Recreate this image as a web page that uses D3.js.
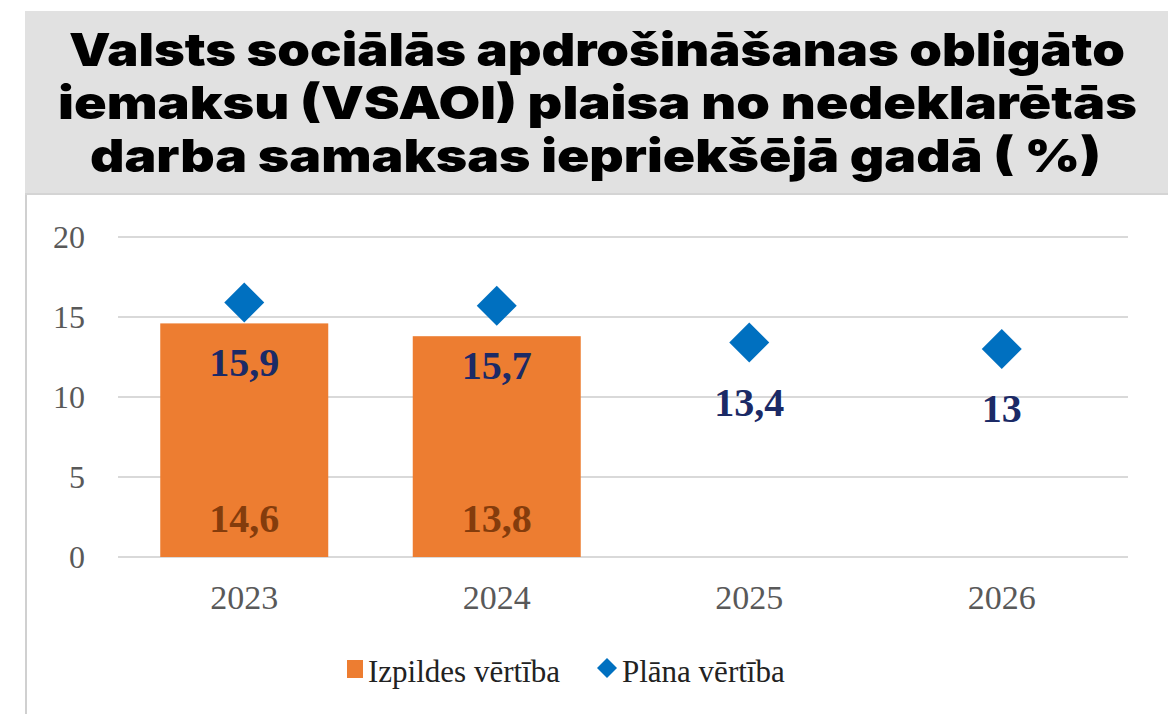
<!DOCTYPE html>
<html lang="lv">
<head>
<meta charset="UTF-8">
<title>VSAOI plaisa</title>
<script src="https://d3js.org/d3.v7.min.js"></script>
<style>
  body { margin: 0; background: #fff; }
  svg { display: block; }
</style>
</head>
<body>
<script>
// dati
const years = ['2023', '2024', '2025', '2026'];
const actual = [14.6, 13.8, null, null];     // Izpildes vērtība
const plan = [15.9, 15.7, 13.4, 13];        // Plāna vērtība
const planLabels = ['15,9', '15,7', '13,4', '13'];
const actualLabels = ['14,6', '13,8', null, null];
const yTicks = [0, 5, 10, 15, 20];
const titleLines = [
  'Valsts sociālās apdrošināšanas obligāto',
  'iemaksu (VSAOI) plaisa no nedeklarētās',
  'darba samaksas iepriekšējā gadā ( %)'
];
const legendItems = ['Izpildes vērtība', 'Plāna vērtība'];

const W = 1168, H = 714;
const orange = '#ED7D31', blue = '#0070C0';
const serif = '"Liberation Serif", "DejaVu Serif", serif';

const svg = d3.select('body').append('svg')
  .attr('width', W).attr('height', H);

// virsraksta josla
svg.append('rect').attr('x', 25).attr('y', 11).attr('width', W - 25).attr('height', 182)
  .attr('fill', '#e1e1e1');
svg.append('line').attr('x1', 25).attr('x2', W).attr('y1', 194).attr('y2', 194)
  .attr('stroke', '#d4d4d4').attr('stroke-width', 2);

// rindu novietojums: [kreisā mala, platums]
const titleBox = [[69, 1056], [58, 1079], [90, 1011]];
svg.append('g').selectAll('text').data(titleLines).join('text')
  .attr('x', (d, i) => titleBox[i][0])
  .attr('y', (d, i) => 66 + i * 53)
  .attr('textLength', (d, i) => titleBox[i][1])
  .attr('lengthAdjust', 'spacingAndGlyphs')
  .attr('font-family', 'Inter, "Noto Sans", sans-serif')
  .attr('font-weight', 900)
  .attr('font-size', 46)
  .attr('fill', '#000')
  .text(d => d);

// diagrammas laukuma kreisā mala
svg.append('line').attr('x1', 26).attr('x2', 26).attr('y1', 195).attr('y2', H)
  .attr('stroke', '#d0d0d0').attr('stroke-width', 2);

const x = d3.scaleBand().domain(years).range([118, 1128]);
const y = d3.scaleLinear().domain([0, 20]).range([557, 237]);

// režģis
svg.append('g').selectAll('line').data(yTicks).join('line')
  .attr('x1', 118).attr('x2', 1128)
  .attr('y1', d => y(d)).attr('y2', d => y(d))
  .attr('stroke', '#d9d9d9').attr('stroke-width', 2);

// y ass
const yAxis = svg.append('g')
  .attr('transform', 'translate(85,0)')
  .call(d3.axisLeft(y).tickValues(yTicks).tickSize(0).tickPadding(0));
yAxis.select('.domain').remove();
yAxis.selectAll('text')
  .attr('font-family', serif).attr('font-size', 32).attr('fill', '#595959');

// x ass
const xAxis = svg.append('g')
  .attr('transform', 'translate(0,586)')
  .call(d3.axisBottom(x).tickSize(0).tickPadding(0));
xAxis.select('.domain').remove();
xAxis.selectAll('text')
  .attr('font-family', serif).attr('font-size', 34).attr('fill', '#595959')
  .attr('dy', '0.68em');

// stabiņi
const barW = 168;
const barData = years.map((yr, i) => ({ yr, v: actual[i], label: actualLabels[i] }))
  .filter(d => d.v != null);

svg.append('g').selectAll('rect').data(barData).join('rect')
  .attr('x', d => x(d.yr) + x.bandwidth() / 2 - barW / 2)
  .attr('width', barW)
  .attr('y', d => y(d.v))
  .attr('height', d => y(0) - y(d.v))
  .attr('fill', orange);

svg.append('g').selectAll('text').data(barData).join('text')
  .attr('x', d => x(d.yr) + x.bandwidth() / 2)
  .attr('y', y(0) - 25)
  .attr('text-anchor', 'middle')
  .attr('font-family', serif).attr('font-weight', 'bold').attr('font-size', 40)
  .attr('fill', '#843C0C')
  .text(d => d.label);

// plāna punkti
const planData = years.map((yr, i) => ({ yr, v: plan[i], label: planLabels[i] }));
const diamond = d3.symbol().type(d3.symbolSquare).size(800);

svg.append('g').selectAll('path').data(planData).join('path')
  .attr('d', diamond)
  .attr('transform', d => `translate(${x(d.yr) + x.bandwidth() / 2},${y(d.v)}) rotate(45)`)
  .attr('fill', blue);

svg.append('g').selectAll('text').data(planData).join('text')
  .attr('x', d => x(d.yr) + x.bandwidth() / 2)
  .attr('y', d => y(d.v) + 73)
  .attr('text-anchor', 'middle')
  .attr('font-family', serif).attr('font-weight', 'bold').attr('font-size', 40)
  .attr('fill', '#1B2A66')
  .text(d => d.label);

// leģenda
const legend = svg.append('g').attr('font-family', serif).attr('font-size', 31).attr('fill', '#222');
legend.append('rect').attr('x', 347).attr('y', 660).attr('width', 16).attr('height', 18).attr('fill', orange);
legend.append('text').attr('x', 368).attr('y', 682).text(legendItems[0]);
legend.append('path')
  .attr('d', d3.symbol().type(d3.symbolSquare).size(200))
  .attr('transform', 'translate(607,668) rotate(45)')
  .attr('fill', blue);
legend.append('text').attr('x', 622).attr('y', 682).text(legendItems[1]);
</script>
</body>
</html>
